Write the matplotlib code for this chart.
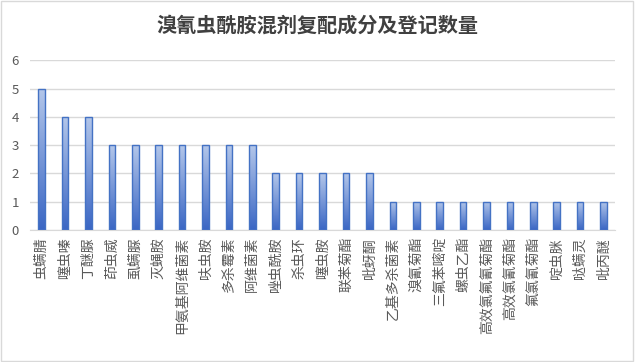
import numpy as np
import matplotlib.pyplot as plt

plt.rcParams['font.family'] = ['Noto Sans CJK SC', 'DejaVu Sans']

# data
names = ["虫螨腈", "噻虫嗪", "丁醚脲", "茚虫威", "虱螨脲", "灭蝇胺", "甲氨基阿维菌素",
         "呋虫胺", "多杀霉素", "阿维菌素", "唑虫酰胺", "杀虫环", "噻虫胺", "联苯菊酯",
         "吡蚜酮", "乙基多杀菌素", "溴氰菊酯", "三氟苯嘧啶", "螺虫乙酯", "高效氯氟氰菊酯",
         "高效氯氰菊酯", "氟氯氰菊酯", "啶虫脒", "哒螨灵", "吡丙醚"]
counts = [5, 4, 4, 3, 3, 3, 3, 3, 3, 3, 2, 2, 2, 2, 2, 1, 1, 1, 1, 1, 1, 1, 1, 1, 1]
yticks = [0, 1, 2, 3, 4, 5, 6]

fig = plt.figure(figsize=(6.35, 3.62), dpi=100)
ax = fig.add_axes([0.047, 0.3646, 0.922, 0.4688])

x = np.arange(len(names))
bars = ax.bar(x, counts, width=0.28, facecolor='none', edgecolor='#4472C4',
              linewidth=1.0, zorder=3)

# vertical gradient inside each bar
grad = np.linspace(0, 1, 256).reshape(-1, 1)
cmap = plt.matplotlib.colors.LinearSegmentedColormap.from_list(
    "g", ["#3A66C4", "#B4C7EA"])
for b in bars:
    x0, w, h = b.get_x(), b.get_width(), b.get_height()
    im = ax.imshow(grad, cmap=cmap, extent=[x0, x0 + w, 0, h], origin='lower',
                   aspect='auto', zorder=2)
    im.set_clip_path(b)

ax.set_xlim(-0.5, len(names) - 0.5)
ax.set_ylim(0, 6)
ax.set_yticks(yticks)
ax.grid(axis='y', color='#D9D9D9', linewidth=1.0, zorder=0)
ax.set_axisbelow(True)
for s in ['top', 'right', 'left']:
    ax.spines[s].set_visible(False)
ax.spines['bottom'].set_color('#D9D9D9')
ax.tick_params(axis='both', length=0, colors='#595959', labelsize=9.5)
ax.tick_params(axis='y', pad=8)
ax.tick_params(axis='x', pad=5)
ax.set_xticks(x)
ax.set_xticklabels(names, rotation=90, va='top', fontsize=10)

fig.text(0.5, 0.93, "溴氰虫酰胺混剂复配成分及登记数量", ha='center', va='center',
         fontsize=14.5, fontweight='bold', color='#404040')

# light frame around the chart
fig.patches.append(plt.Rectangle((0.002, 0.003), 0.995, 0.993, transform=fig.transFigure,
                                 fill=False, edgecolor='#D9D9D9', linewidth=1))

fig.savefig("out.png", dpi=100)
